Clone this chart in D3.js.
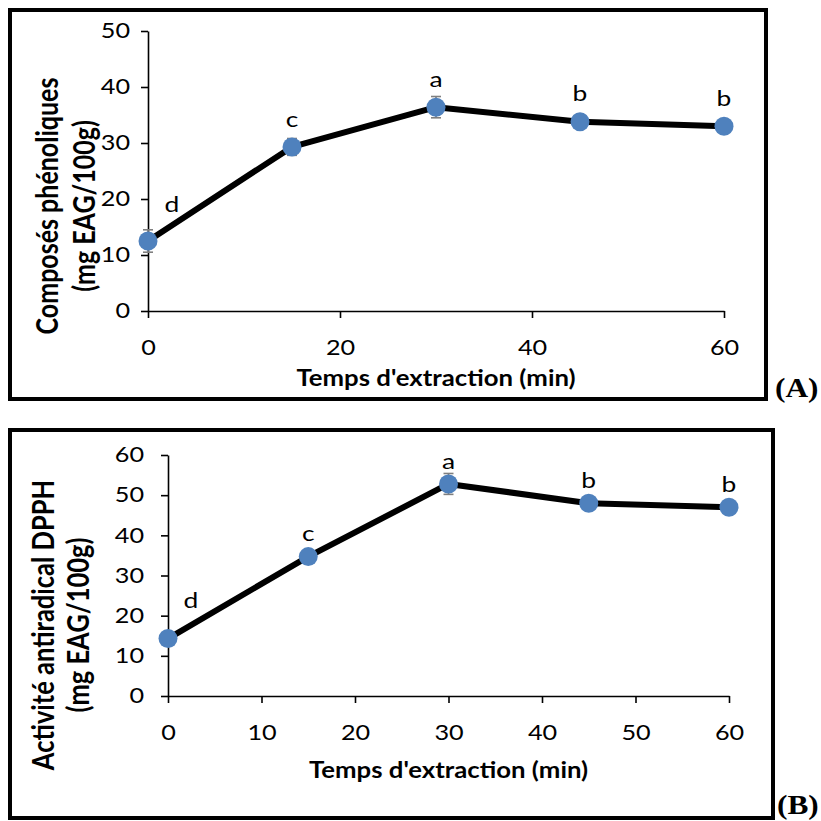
<!DOCTYPE html>
<html><head><meta charset="utf-8">
<script src="https://cdn.jsdelivr.net/npm/d3@7"></script>
<style>body{margin:0;background:#fff}svg{display:block}</style>
</head><body>
<script>
// ---- data ----
const times = [0, 15, 30, 45, 60];
const phenolValues = [12.5, 29.3, 36.4, 33.8, 33.0];
const phenolErrors = [2.0, 1.5, 1.9, 0.7, 0.7];
const phenolLetters = ["d", "c", "a", "b", "b"];
const dpphValues = [14.3, 34.7, 52.8, 48.0, 47.0];
const dpphErrors = [0.6, 0.8, 2.6, 0.5, 0.5];
const dpphLetters = ["d", "c", "a", "b", "b"];
const xTicksA = [0, 20, 40, 60];
const yTicksA = [0, 10, 20, 30, 40, 50];
const xTicksB = [0, 10, 20, 30, 40, 50, 60];
const yTicksB = [0, 10, 20, 30, 40, 50, 60];
const xTitle = "Temps d'extraction (min)";
const yTitleA = ["Composés phénoliques", "(mg EAG/100g)"];
const yTitleB = ["Activité antiradical DPPH", "(mg EAG/100g)"];

const W = 821, H = 821;
const svg = d3.select("body").append("svg").attr("width", W).attr("height", H);
const FONT = "Lato, 'Open Sans', sans-serif";
const SX = 1.2; // horizontal stretch of the reference text

function panel(cfg) {
  const g = svg.append("g");
  g.append("rect").attr("x", cfg.box[0]).attr("y", cfg.box[1])
    .attr("width", cfg.box[2] - cfg.box[0]).attr("height", cfg.box[3] - cfg.box[1])
    .attr("fill", "#fff").attr("stroke", "#000").attr("stroke-width", 4);

  const x = d3.scaleLinear().domain([0, 60]).range(cfg.xr);
  const y = d3.scaleLinear().domain(cfg.yd).range(cfg.yr);

  const xa = g.append("g").attr("transform", `translate(0,${cfg.yr[0]})`)
    .call(d3.axisBottom(x).tickValues(cfg.xt).tickSize(7).tickSizeOuter(0).tickPadding(22));
  const ya = g.append("g").attr("transform", `translate(${cfg.xr[0]},0)`)
    .call(d3.axisLeft(y).tickValues(cfg.yt).tickSize(7).tickSizeOuter(0));
  [xa, ya].forEach(a => {
    a.selectAll("path,line").attr("stroke", "#000").attr("stroke-width", 1.6);
    a.selectAll("text").attr("font-family", FONT).attr("font-size", 21).attr("fill", "#000");
  });
  xa.selectAll("text").attr("transform", `scale(${SX},1)`);
  ya.selectAll("text").attr("x", 0).attr("transform", `translate(${-cfg.yLabGap},0) scale(${SX},1)`);

  const line = d3.line().x((d, i) => x(times[i])).y(d => y(d));
  g.append("path").datum(cfg.vals).attr("d", line)
    .attr("fill", "none").attr("stroke", "#000").attr("stroke-width", 6)
    .attr("stroke-linejoin", "round");

  const eb = g.append("g").attr("stroke", "#7f7f7f").attr("stroke-width", 1.6);
  cfg.vals.forEach((v, i) => {
    const cx = x(times[i]), e = cfg.errs[i];
    eb.append("line").attr("x1", cx).attr("x2", cx).attr("y1", y(v - e)).attr("y2", y(v + e));
    [v - e, v + e].forEach(t => eb.append("line").attr("x1", cx - 5).attr("x2", cx + 5)
      .attr("y1", y(t)).attr("y2", y(t)));
  });

  g.append("g").selectAll("circle").data(cfg.vals).join("circle")
    .attr("cx", (d, i) => x(times[i])).attr("cy", d => y(d)).attr("r", 9.5)
    .attr("fill", "#4F81BD");

  g.append("g").selectAll("text").data(cfg.letters).join("text")
    .attr("transform", (d, i) => `translate(${x(times[i]) + (i === 0 ? cfg.firstDx : 0)},${y(cfg.vals[i]) + (i === 0 ? cfg.firstDy : cfg.labDy)}) scale(${SX},1)`)
    .attr("text-anchor", "middle").attr("dominant-baseline", "central")
    .attr("font-family", FONT).attr("font-size", 22).text(d => d);

  g.append("text")
    .attr("transform", `translate(${(cfg.xr[0] + cfg.xr[1]) / 2},${cfg.xTitleY}) scale(1.12,1)`)
    .attr("text-anchor", "middle").attr("font-family", FONT).attr("font-weight", 700)
    .attr("font-size", 23).text(xTitle);

  cfg.yTitle.forEach((t, k) => {
    g.append("text").attr("transform", `translate(${cfg.yTitleX[k]},${cfg.yTitleCY}) scale(${SX},1) rotate(-90)`)
      .attr("text-anchor", "middle").attr("dominant-baseline", "central")
      .attr("font-family", FONT).attr("font-weight", 700).attr("font-size", cfg.yTitleSize)
      .text(t);
  });

  svg.append("text").attr("transform", `translate(${cfg.tag[0]},${cfg.tag[1]}) scale(1.12,1)`)
    .attr("font-family", "'Liberation Serif', 'Times New Roman', serif").attr("font-weight", 700)
    .attr("font-size", 28).text(cfg.tagText);
}

panel({
  box: [10, 10, 766, 399], xr: [148, 724], yr: [311, 31], yd: [0, 50],
  xt: xTicksA, yt: yTicksA, yLabGap: 18, vals: phenolValues, errs: phenolErrors, letters: phenolLetters,
  firstDx: 24, firstDy: -38, labDy: -29, xTitleY: 386,
  yTitle: yTitleA, yTitleX: [47, 84], yTitleCY: 206, yTitleSize: 25,
  tag: [775, 397], tagText: "(A)"
});
panel({
  box: [10, 430, 773, 818], xr: [168, 729], yr: [696, 455], yd: [0, 60],
  xt: xTicksB, yt: yTicksB, yLabGap: 24, vals: dpphValues, errs: dpphErrors, letters: dpphLetters,
  firstDx: 23, firstDy: -39, labDy: -24, xTitleY: 778,
  yTitle: yTitleB, yTitleX: [42, 77], yTitleCY: 625, yTitleSize: 25.5,
  tag: [777, 814], tagText: "(B)"
});
</script>
</body></html>
